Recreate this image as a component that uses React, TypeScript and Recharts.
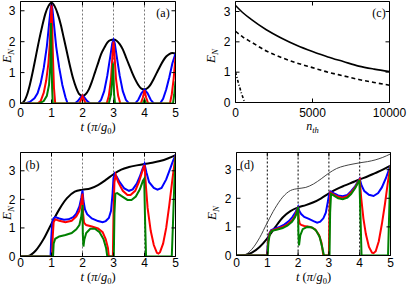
import React from 'react';
import { LineChart, Line, XAxis, YAxis, ReferenceLine } from 'recharts';

// ---------- ticks ----------
const tTicks = [0, 1, 2, 3, 4, 5];
const eTicks = [0, 1, 2, 3];
const nTicks = [0, 5000, 10000];

// ---------- data: panel (a) ----------
const aBlack = [[0,0],[0.1,0.05],[0.2,0.25],[0.3,0.6],[0.4,1.05],[0.5,1.55],[0.6,2.05],[0.7,2.5],[0.8,2.9],[0.9,3.15],[1.0,3.26],[1.1,3.15],[1.2,2.9],[1.3,2.55],[1.4,2.1],[1.5,1.65],[1.6,1.2],[1.7,0.8],[1.8,0.5],[1.9,0.3],[2.0,0.25],[2.1,0.3],[2.2,0.45],[2.3,0.7],[2.4,1.0],[2.5,1.3],[2.6,1.6],[2.7,1.8],[2.8,1.97],[2.9,2.05],[3.0,2.07],[3.1,2.03],[3.2,1.92],[3.3,1.75],[3.4,1.5],[3.5,1.25],[3.6,1.0],[3.7,0.78],[3.8,0.6],[3.9,0.48],[4.0,0.45],[4.1,0.5],[4.2,0.62],[4.3,0.8],[4.4,1.0],[4.5,1.2],[4.6,1.38],[4.7,1.52],[4.8,1.6],[4.9,1.63],[5.0,1.62]];
const aBlue = [[0,0],[0.15,0],[0.3,0.05],[0.45,0.17],[0.55,0.33],[0.65,0.65],[0.75,1.15],[0.85,1.85],[0.92,2.55],[0.97,3.05],[1.0,3.22],[1.03,3.05],[1.08,2.55],[1.15,1.85],[1.25,1.15],[1.35,0.6],[1.45,0.2],[1.52,0],[1.75,0],[1.85,0.08],[1.95,0.21],[2.0,0.25],[2.05,0.21],[2.15,0.08],[2.25,0],[2.5,0],[2.6,0.12],[2.7,0.4],[2.8,0.9],[2.9,1.55],[2.96,1.95],[3.0,2.06],[3.04,1.95],[3.1,1.55],[3.2,0.9],[3.3,0.4],[3.4,0.12],[3.5,0],[3.7,0],[3.8,0.12],[3.9,0.33],[4.0,0.45],[4.1,0.33],[4.2,0.12],[4.3,0],[4.5,0],[4.6,0.15],[4.7,0.45],[4.8,0.85],[4.9,1.3],[5.0,1.62]];
const aRed = [[0,0],[0.55,0],[0.65,0.08],[0.75,0.35],[0.83,0.75],[0.9,1.3],[0.95,2.0],[0.98,2.7],[1.0,3.2],[1.02,2.6],[1.05,1.4],[1.08,0.5],[1.12,0],[1.9,0],[1.95,0.12],[2.0,0.24],[2.05,0.12],[2.1,0],[2.78,0],[2.85,0.25],[2.92,0.8],[2.97,1.6],[3.0,2.0],[3.03,1.6],[3.08,0.8],[3.15,0.25],[3.22,0],[3.88,0],[3.95,0.2],[4.0,0.43],[4.05,0.2],[4.12,0],[4.82,0],[4.88,0.3],[4.94,0.8],[5.0,1.5]];
const aGreen = [[0,0],[0.6,0],[0.75,0.08],[0.85,0.25],[0.92,0.6],[0.96,1.2],[0.985,2.6],[1.0,1.6],[1.02,0.5],[1.04,0],[2.85,0],[2.92,0.3],[2.96,0.8],[2.985,1.3],[3.0,0.9],[3.02,0.3],[3.05,0],[3.95,0],[4.0,0.12],[4.05,0],[4.92,0],[4.96,0.3],[5.0,0.72]];

// ---------- data: panel (b) ----------
const bBlack = [[0,0],[0.25,0.02],[0.5,0.22],[0.75,0.62],[1.0,1.15],[1.25,1.65],[1.5,2.04],[1.75,2.27],[2.0,2.34],[2.25,2.38],[2.5,2.5],[2.75,2.68],[3.0,2.88],[3.25,3.04],[3.5,3.13],[3.75,3.19],[4.0,3.24],[4.25,3.28],[4.5,3.34],[4.75,3.43],[5.0,3.55]];
const bBlue = [[0,0],[0.97,0],[0.99,0.6],[1.02,1.15],[1.06,1.33],[1.12,1.38],[1.25,1.33],[1.4,1.29],[1.55,1.3],[1.7,1.38],[1.8,1.5],[1.9,1.75],[1.96,2.05],[2.0,2.32],[2.03,1.95],[2.08,1.65],[2.15,1.48],[2.3,1.33],[2.5,1.24],[2.65,1.2],[2.75,1.24],[2.85,1.35],[2.92,1.6],[2.97,2.2],[3.0,2.75],[3.04,2.9],[3.1,2.8],[3.2,2.6],[3.35,2.38],[3.5,2.3],[3.62,2.35],[3.75,2.55],[3.85,2.8],[3.93,3.05],[4.0,3.24],[4.06,2.95],[4.15,2.6],[4.3,2.4],[4.42,2.34],[4.55,2.4],[4.7,2.7],[4.82,3.05],[4.92,3.35],[5.0,3.55]];
const bRed = [[0,0],[1.02,0],[1.04,0.7],[1.07,1.2],[1.12,1.3],[1.25,1.25],[1.45,1.2],[1.65,1.25],[1.8,1.4],[1.9,1.6],[1.96,1.9],[2.0,2.2],[2.02,1.5],[2.05,1.18],[2.12,1.1],[2.3,1.05],[2.5,0.98],[2.65,0.85],[2.75,0.6],[2.82,0.3],[2.85,0],[2.98,0],[3.0,1.5],[3.03,2.6],[3.07,2.85],[3.15,2.6],[3.3,2.3],[3.45,2.15],[3.55,2.15],[3.7,2.3],[3.82,2.6],[3.92,2.95],[4.0,3.2],[4.05,2.4],[4.1,1.7],[4.2,0.9],[4.3,0.4],[4.4,0.13],[4.45,0.1],[4.5,0.15],[4.6,0.45],[4.7,1.0],[4.8,1.8],[4.9,2.7],[5.0,3.52]];
const bGreen = [[0,0],[1.05,0],[1.07,0.45],[1.12,0.62],[1.25,0.7],[1.45,0.75],[1.65,0.82],[1.8,0.95],[1.9,1.1],[1.96,1.4],[2.0,1.8],[2.01,0.8],[2.03,0.35],[2.06,0.6],[2.12,0.82],[2.25,0.97],[2.4,0.97],[2.55,0.85],[2.68,0.6],[2.76,0.3],[2.8,0],[3.01,0],[3.03,1.5],[3.06,2.2],[3.12,2.22],[3.25,2.12],[3.45,1.98],[3.58,1.98],[3.72,2.1],[3.85,2.35],[3.95,2.65],[3.99,2.72],[4.02,1.2],[4.05,0],[4.88,0],[4.92,1.2],[4.96,2.5],[5.0,3.5]];

// ---------- data: panel (c) ----------
const cSolid = [[0,3.2],[500,2.95],[1000,2.75],[2000,2.4],[3000,2.12],[4000,1.88],[5000,1.68],[6000,1.5],[7000,1.35],[8000,1.2],[9000,1.1],[10000,1.02]];
const cDashed = [[0,2.35],[500,2.15],[1000,2.0],[2000,1.7],[3000,1.48],[4000,1.3],[5000,1.15],[6000,1.0],[7000,0.88],[8000,0.76],[9000,0.66],[10000,0.57]];
const cDashDot = [[0,1.0],[200,0.62],[400,0.28],[600,0]];

// ---------- data: panel (d) ----------
const dThin = bBlack;
const dBlack = [[0,0],[0.25,0.01],[0.5,0.1],[0.75,0.3],[1.0,0.6],[1.25,0.98],[1.5,1.33],[1.75,1.55],[2.0,1.68],[2.25,1.76],[2.5,1.86],[2.75,2.0],[3.0,2.17],[3.25,2.32],[3.5,2.44],[3.75,2.55],[4.0,2.66],[4.25,2.76],[4.5,2.88],[4.75,3.0],[5.0,3.14]];
const dBlue = [[0,0],[0.99,0],[1.02,0.45],[1.06,0.75],[1.12,0.88],[1.25,0.95],[1.4,1.0],[1.55,1.08],[1.7,1.2],[1.82,1.35],[1.92,1.52],[2.0,1.7],[2.04,1.55],[2.1,1.45],[2.2,1.35],[2.35,1.28],[2.5,1.2],[2.62,1.15],[2.72,1.18],[2.82,1.3],[2.9,1.5],[2.96,1.85],[3.0,2.1],[3.05,2.24],[3.15,2.18],[3.3,2.1],[3.45,2.07],[3.6,2.12],[3.72,2.25],[3.85,2.42],[4.0,2.68],[4.06,2.45],[4.15,2.25],[4.3,2.12],[4.45,2.08],[4.6,2.18],[4.72,2.38],[4.85,2.7],[4.95,3.0],[5.0,3.15]];
const dRed = [[0,0],[1.0,0],[1.03,0.5],[1.08,0.8],[1.15,0.88],[1.3,0.93],[1.5,1.0],[1.65,1.08],[1.8,1.22],[1.9,1.38],[1.96,1.55],[2.0,1.7],[2.02,1.3],[2.05,1.12],[2.1,1.07],[2.2,1.03],[2.4,1.0],[2.55,0.92],[2.68,0.72],[2.76,0.45],[2.82,0],[3.0,0],[3.02,1.6],[3.05,2.2],[3.12,2.15],[3.3,2.05],[3.45,2.02],[3.6,2.07],[3.72,2.2],[3.85,2.38],[3.95,2.58],[4.0,2.66],[4.05,2.0],[4.12,1.3],[4.2,0.75],[4.3,0.3],[4.4,0.1],[4.45,0.08],[4.52,0.15],[4.62,0.5],[4.72,1.1],[4.82,1.8],[4.92,2.6],[5.0,3.14]];
const dGreen = [[0,0],[1.01,0],[1.04,0.5],[1.09,0.78],[1.15,0.86],[1.3,0.9],[1.5,0.96],[1.65,1.04],[1.8,1.18],[1.9,1.34],[1.96,1.5],[2.0,1.7],[2.01,0.8],[2.03,0.35],[2.07,0.7],[2.15,0.92],[2.3,1.0],[2.45,0.98],[2.58,0.88],[2.7,0.65],[2.78,0.3],[2.84,0],[3.02,0],[3.04,1.5],[3.07,2.15],[3.15,2.1],[3.3,2.0],[3.45,1.97],[3.6,2.02],[3.72,2.15],[3.85,2.35],[3.95,2.55],[3.99,2.64],[4.03,1.2],[4.06,0],[4.92,0],[4.95,1.2],[4.98,2.4],[5.0,3.14]];

const aRefs = [2, 3, 4];
const bRefs = [1, 2, 3, 4];

// ---------- helpers ----------
const pts = (a: number[][]) => a.map(([t, v]) => ({ t, v }));
const SANS = "'Liberation Sans', Arial, Helvetica, sans-serif";
const SERIF = "'Liberation Serif', 'Times New Roman', serif";
const TL = 4;
const BLUE = '#0000ff';
const RED = '#ff0000';
const GREEN = '#008000';
const AX = 1;

const mkBottom = (dy: number) => (p: any) => (
  <g>
    <line x1={p.x} x2={p.x} y1={p.y} y2={p.y - TL} stroke="#000" strokeWidth={1} />
    <text x={p.x} y={p.y + dy} textAnchor="middle" fontSize={12} fontFamily={SANS} fill="#000">{p.payload.value}</text>
  </g>
);
const LeftTick = (p: any) => (
  <g>
    <line x1={p.x} x2={p.x + TL} y1={p.y} y2={p.y} stroke="#000" strokeWidth={1} />
    <text x={p.x - 5} y={p.y + 4.3} textAnchor="end" fontSize={12} fontFamily={SANS} fill="#000">{p.payload.value}</text>
  </g>
);
const RightTick = (p: any) => (
  <line x1={p.x} x2={p.x - TL} y1={p.y} y2={p.y} stroke="#000" strokeWidth={1} />
);
const TopTick = (p: any) => (
  <line x1={p.x} x2={p.x} y1={p.y} y2={p.y + TL} stroke="#000" strokeWidth={1} />
);

function panel(
  box: { L: number; R: number; T: number; B: number },
  xDomain: number[], yDomain: number[], xTicks: number[], tickDy: number,
  refs: number[], refColor: string, lines: React.ReactNode[]
) {
  const axisLine = { stroke: '#000', strokeWidth: 1 };
  const margin = { left: box.L - AX, right: 409 - box.R - AX, top: box.T - AX, bottom: 286 - box.B - AX };
  return (
    <div style={{ position: 'absolute', left: 0, top: 0 }}>
      <LineChart width={409} height={286} margin={margin}>
        <XAxis xAxisId={0} type="number" dataKey="t" domain={xDomain} ticks={xTicks} interval={0}
          allowDataOverflow height={AX} tickSize={0} tickMargin={0} tickLine={false}
          axisLine={axisLine} tick={mkBottom(tickDy)} />
        <XAxis xAxisId="top" orientation="top" type="number" dataKey="t" domain={xDomain} ticks={xTicks} interval={0}
          allowDataOverflow height={AX} tickSize={0} tickMargin={0} tickLine={false}
          axisLine={axisLine} tick={TopTick} />
        <YAxis yAxisId={0} type="number" domain={yDomain} ticks={eTicks} interval={0}
          allowDataOverflow width={AX} tickSize={0} tickMargin={0} tickLine={false}
          axisLine={axisLine} tick={LeftTick} />
        <YAxis yAxisId="r" orientation="right" type="number" domain={yDomain} ticks={eTicks} interval={0}
          allowDataOverflow width={AX} tickSize={0} tickMargin={0} tickLine={false}
          axisLine={axisLine} tick={RightTick} />
        {refs.map((r) => (
          <ReferenceLine key={r} x={r} stroke={refColor} strokeWidth={1} strokeDasharray="2 2" />
        ))}
        {lines}
      </LineChart>
    </div>
  );
}

const ln = (key: string, data: number[][], color: string, w: number, type: any = 'linear', dash?: string) => (
  <Line key={key} data={pts(data)} dataKey="v" type={type} stroke={color} strokeWidth={w}
    strokeDasharray={dash} dot={false} activeDot={false} isAnimationActive={false} />
);

const ENLabel = ({ x, y }: { x: number; y: number }) => (
  <text transform={`translate(${x},${y}) rotate(-90)`} textAnchor="middle" fontFamily={SERIF} fontSize={13} fontStyle="italic" fill="#000">
    E<tspan fontSize={9} dy={3}>N</tspan>
  </text>
);
const TLabel = ({ x, y }: { x: number; y: number }) => (
  <text x={x} y={y} textAnchor="middle" fontFamily={SERIF} fontSize={12.5} fill="#000">
    <tspan fontStyle="italic">t</tspan> (<tspan fontStyle="italic">π</tspan>/<tspan fontStyle="italic">g</tspan>
    <tspan fontSize={8.5} dy={3}>0</tspan><tspan dy={-3}>)</tspan>
  </text>
);

export default function App() {
  return (
    <div style={{ position: 'fixed', left: 0, top: 0, width: 409, height: 286, background: '#fff', overflow: 'hidden' }}>
      {panel({ L: 20.5, R: 175.5, T: 1.5, B: 103.5 }, [0, 5], [0, 3.3], tTicks, 13.5, aRefs, '#777', [
        ln('ak', aBlack, '#000', 2, 'monotone'),
        ln('ab', aBlue, BLUE, 2),
        ln('ar', aRed, RED, 2),
        ln('ag', aGreen, GREEN, 2),
      ])}
      {panel({ L: 235.5, R: 389.5, T: 1.5, B: 102.5 }, [0, 10000], [0, 3.33], nTicks, 14, [], '#000', [
        ln('cs', cSolid, '#000', 1.6, 'monotone'),
        ln('cd', cDashed, '#000', 1.6, 'monotone', '4 3'),
        ln('cdd', cDashDot, '#000', 1.6, 'linear', '3 2 1 2'),
      ])}
      {panel({ L: 20.5, R: 175.5, T: 152.5, B: 256.5 }, [0, 5], [0, 3.64], tTicks, 10, bRefs, '#777', [
        ln('bk', bBlack, '#000', 2, 'monotone'),
        ln('bb', bBlue, BLUE, 2),
        ln('br', bRed, RED, 2),
        ln('bg', bGreen, GREEN, 2),
      ])}
      {panel({ L: 236.5, R: 390.5, T: 152.5, B: 255.5 }, [0, 5], [0, 3.6], tTicks, 11, bRefs, '#000', [
        ln('dt', dThin, '#444', 1, 'monotone'),
        ln('dk', dBlack, '#000', 2, 'monotone'),
        ln('db', dBlue, BLUE, 2),
        ln('dr', dRed, RED, 2),
        ln('dg', dGreen, GREEN, 2),
      ])}
      <svg width={409} height={286} style={{ position: 'absolute', left: 0, top: 0, pointerEvents: 'none' }}>
        <ENLabel x={11} y={56} />
        <ENLabel x={215} y={56} />
        <ENLabel x={11} y={213} />
        <ENLabel x={216} y={213} />
        <TLabel x={98} y={131} />
        <TLabel x={98} y={280.5} />
        <TLabel x={313.5} y={280.5} />
        <text x={312.5} y={129.5} textAnchor="middle" fontFamily={SERIF} fontSize={12} fontStyle="italic" fill="#000">
          n<tspan fontSize={8.5} dy={3}>th</tspan>
        </text>
        <text x={163} y={17} textAnchor="middle" fontFamily={SERIF} fontSize={12} fill="#000">(a)</text>
        <text x={379} y={17} textAnchor="middle" fontFamily={SERIF} fontSize={12} fill="#000">(c)</text>
        <text x={32.5} y={169} textAnchor="middle" fontFamily={SERIF} fontSize={12} fill="#000">(b)</text>
        <text x={247} y={169} textAnchor="middle" fontFamily={SERIF} fontSize={12} fill="#000">(d)</text>
      </svg>
    </div>
  );
}
